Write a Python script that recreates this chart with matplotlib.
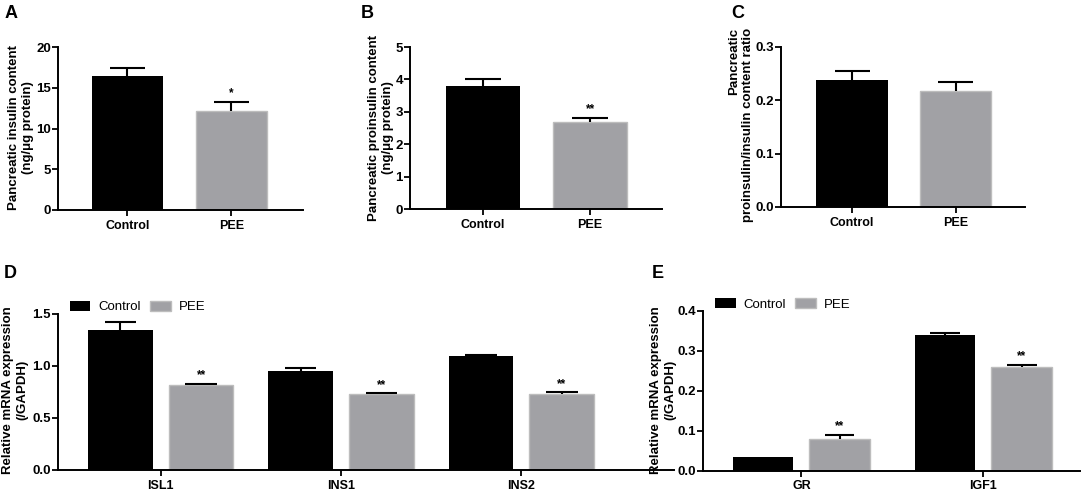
import matplotlib
matplotlib.use("Agg")
import matplotlib.pyplot as plt
import numpy as np

plt.rcParams['font.family'] = ['Liberation Sans', 'DejaVu Sans']

groups2 = ["Control", "PEE"]
# Panel A
a_vals = [16.5, 12.1]
a_err = [17.4, 13.3]
a_sig = ["", "*"]
# Panel B
b_vals = [3.81, 2.67]
b_err = [4.01, 2.82]
b_sig = ["", "**"]
# Panel C
c_vals = [0.238, 0.217]
c_err = [0.255, 0.235]
c_sig = ["", ""]
# Panel D
d_genes = ["ISL1", "INS1", "INS2"]
d_ctrl = [1.345, 0.948, 1.100]
d_ctrl_err = [1.42, 0.983, 1.110]
d_pee = [0.822, 0.727, 0.733]
d_pee_err = [0.830, 0.738, 0.752]
d_sig = ["**", "**", "**"]
# Panel E
e_genes = ["GR", "IGF1"]
e_ctrl = [0.033, 0.338]
e_ctrl_err = [0.033, 0.345]
e_pee = [0.080, 0.258]
e_pee_err = [0.090, 0.265]
e_sig = ["**", "**"]

BLACK = "#000000"
GREY = "#a1a1a5"
GREY_EDGE = "#bdbdbd"

W, H = 1084, 491
fig = plt.figure(figsize=(W / 100, H / 100), dpi=100)


def ax_px(l, t, r, b):
    return fig.add_axes([l / W, 1 - b / H, (r - l) / W, (b - t) / H])


def style(ax):
    for s in ["top", "right"]:
        ax.spines[s].set_visible(False)
    for s in ["left", "bottom"]:
        ax.spines[s].set_linewidth(1.4)
    ax.tick_params(axis="both", length=4, width=1.3, pad=1.2)
    ax.tick_params(axis="y", labelsize=9.5)
    ax.tick_params(axis="x", labelsize=9, pad=3)
    for lab in ax.get_xticklabels() + ax.get_yticklabels():
        lab.set_fontweight("bold")


def draw_err(ax, x, v, e, bw, frac=0.245):
    ax.vlines(x, v, e, color="black", lw=1.5, zorder=3)
    ax.hlines(e, x - bw * frac, x + bw * frac, color="black", lw=1.5, zorder=3)


def star(ax, x, e, s):
    if s:
        ax.annotate(s, (x, e), xytext=(0, 1.5), textcoords="offset points",
                    ha="center", va="bottom", fontsize=8.5, fontweight="bold")


def simple_panel(ax, vals, errs, sigs, ylim, yticks, fmt, xlim):
    x = np.arange(len(groups2))
    bw = 0.69
    ax.bar(x[0], vals[0], bw, color=BLACK, zorder=2)
    ax.bar(x[1], vals[1], bw, color=GREY, edgecolor=GREY_EDGE, lw=1, zorder=2)
    for xi, v, e, s in zip(x, vals, errs, sigs):
        draw_err(ax, xi, v, e, bw)
        star(ax, xi, e, s)
    ax.set_xlim(*xlim)
    ax.set_ylim(*ylim)
    ax.set_yticks(yticks)
    ax.set_yticklabels([fmt.format(t) for t in yticks])
    ax.set_xticks(x)
    ax.set_xticklabels(groups2)
    style(ax)


axA = ax_px(58, 47, 303, 210)
simple_panel(axA, a_vals, a_err, a_sig, (0, 20), [0, 5, 10, 15, 20], "{:.0f}", (-0.668, 1.688))
axB = ax_px(410, 47, 662, 209)
simple_panel(axB, b_vals, b_err, b_sig, (0, 5), [0, 1, 2, 3, 4, 5], "{:.0f}", (-0.68, 1.67))
axC = ax_px(781, 47, 1025, 207)
simple_panel(axC, c_vals, c_err, c_sig, (0, 0.3), [0, 0.1, 0.2, 0.3], "{:.1f}", (-0.686, 1.67))


def group_panel(ax, genes, ctrl, ctrl_e, pee, pee_e, sigs, off, bw, ylim, yticks, xlim, leg_xy):
    x = np.arange(len(genes))
    ax.bar(x - off, ctrl, bw, color=BLACK, zorder=2, label="Control")
    ax.bar(x + off, pee, bw, color=GREY, edgecolor=GREY_EDGE, lw=1, zorder=2, label="PEE")
    for xi, v, e in zip(x - off, ctrl, ctrl_e):
        if e > v:
            draw_err(ax, xi, v, e, bw)
    for xi, v, e, s in zip(x + off, pee, pee_e, sigs):
        draw_err(ax, xi, v, e, bw)
        star(ax, xi, e, s)
    ax.set_xlim(*xlim)
    ax.set_ylim(*ylim)
    ax.set_yticks(yticks)
    ax.set_yticklabels(["{:.1f}".format(t) for t in yticks])
    ax.set_xticks(x)
    ax.set_xticklabels(genes)
    style(ax)
    ax.legend(loc="center left", bbox_to_anchor=leg_xy, ncol=2, frameon=False,
              fontsize=9.5, handlelength=1.55, handleheight=0.85,
              handletextpad=0.6, columnspacing=0.7, borderpad=0, borderaxespad=0)


axD = ax_px(58, 314, 674, 470)
group_panel(axD, d_genes, d_ctrl, d_ctrl_err, d_pee, d_pee_err, d_sig, 0.224, 0.358,
            (0, 1.5), [0, 0.5, 1.0, 1.5], (-0.57, 2.847), (0.0195, 1.045))
axE = ax_px(703, 310.7, 1080, 470.5)
group_panel(axE, e_genes, e_ctrl, e_ctrl_err, e_pee, e_pee_err, e_sig, 0.21, 0.332,
            (0, 0.4), [0, 0.1, 0.2, 0.3, 0.4], (-0.54, 1.53), (0.032, 1.04))

# y labels
def ylab(xc, yc, s, ma="center"):
    fig.text(xc / W, 1 - yc / H, s, rotation=90, ha="center", va="center",
             fontsize=9.5, fontweight="bold", multialignment=ma, linespacing=1.3)

ylab(21, 128, "Pancreatic insulin content\n(ng/\u03bcg protein)")
ylab(381, 128, "Pancreatic proinsulin content\n(ng/\u03bcg protein)")
ylab(741, 125, "Pancreatic\nproinsulin/insulin content ratio", ma="right")
ylab(15, 390, "Relative mRNA expression\n(/GAPDH)")
ylab(663, 390, "Relative mRNA expression\n(/GAPDH)")

# panel letters
for lx, ly, s in [(5, 14, "A"), (361, 14, "B"), (731, 14, "C"), (4, 274, "D"), (652, 274, "E")]:
    fig.text(lx / W, 1 - ly / H, s, ha="left", va="center", fontsize=13, fontweight="bold")

fig.savefig("out.png", dpi=100)
